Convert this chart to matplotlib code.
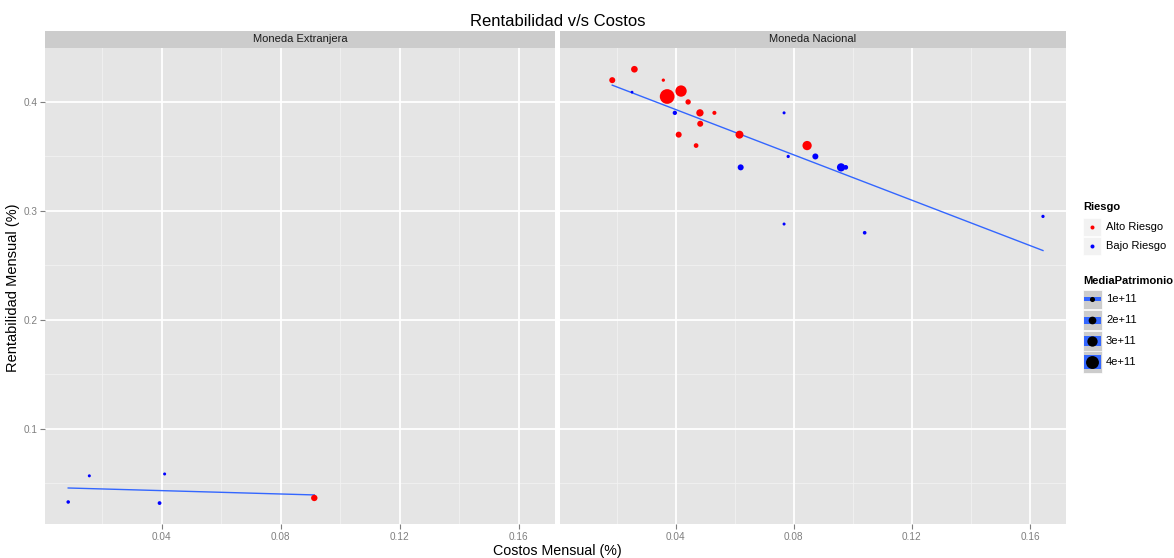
import numpy as np
from matplotlib import pyplot as plt
from matplotlib.patches import Rectangle

plt.rc('font', family='Liberation Sans')

# ---- datos ----
# Moneda Extranjera
ext_costo = [0.0086, 0.0157, 0.0393, 0.0410, 0.0913]
ext_rent = [0.033, 0.057, 0.032, 0.0587, 0.0367]
ext_riesgo = ['Bajo', 'Bajo', 'Bajo', 'Bajo', 'Alto']
ext_patrim = [0.4, 0.2, 0.5, 0.2, 1.5]  # x 1e11

# Moneda Nacional
nac_costo = [0.0185, 0.0260, 0.0358, 0.0371, 0.0418, 0.0442, 0.0482, 0.0531, 0.0483,
             0.0410, 0.0469, 0.0616, 0.0845,
             0.0252, 0.0397, 0.0767, 0.0781, 0.0873, 0.0620, 0.0960, 0.0976, 0.0767,
             0.1040, 0.1644]
nac_rent = [0.420, 0.430, 0.420, 0.405, 0.410, 0.400, 0.390, 0.390, 0.380,
            0.370, 0.360, 0.370, 0.360,
            0.409, 0.390, 0.390, 0.350, 0.350, 0.340, 0.340, 0.340, 0.288,
            0.280, 0.295]
nac_riesgo = ['Alto'] * 13 + ['Bajo'] * 11
nac_patrim = [1.35, 1.6, 0.3, 4.7, 3.4, 1.1, 1.85, 0.6, 1.35, 1.35, 0.85, 2.1, 2.6,
              0.1, 0.7, 0.2, 0.3, 1.35, 1.35, 2.2, 0.85, 0.2, 0.45, 0.3]

facetas = ['Moneda Extranjera', 'Moneda Nacional']
legend_riesgo = ['Alto Riesgo', 'Bajo Riesgo']
legend_patrim = [1, 2, 3, 4]  # x 1e11
legend_patrim_lbl = ['1e+11', '2e+11', '3e+11', '4e+11']

colores = {'Alto': '#FF0000', 'Bajo': '#0000FF'}
W, H = 1174, 558


def diam_px(v):
    return 2.5 + 2.6 * np.asarray(v)


def px_axes(x0, y0, x1, y1):
    # rectangulo en pixeles (origen arriba-izquierda)
    return fig.add_axes([x0 / W, (H - y1) / H, (x1 - x0) / W, (y1 - y0) / H])


fig = plt.figure(figsize=(W / 100, H / 100), dpi=100)

xlim = (0.0008, 0.1722)
ylim = (0.0128, 0.4495)
panels = [(45, 555), (560, 1066)]
datos = [(ext_costo, ext_rent, ext_riesgo, ext_patrim),
         (nac_costo, nac_rent, nac_riesgo, nac_patrim)]

for i, ((x0, x1), (cx, ry, rg, pt)) in enumerate(zip(panels, datos)):
    ax = px_axes(x0, 48, x1, 524)
    ax.set_facecolor('#E5E5E5')
    for s in ax.spines.values():
        s.set_visible(False)
    for v in [0.02, 0.06, 0.10, 0.14]:
        ax.axvline(v, color='#F2F2F2', lw=0.6, zorder=0)
    for v in [0.05, 0.15, 0.25, 0.35]:
        ax.axhline(v, color='#F2F2F2', lw=0.6, zorder=0)
    for v in [0.04, 0.08, 0.12, 0.16]:
        ax.axvline(v, color='white', lw=1.3, zorder=0)
    for v in [0.1, 0.2, 0.3, 0.4]:
        ax.axhline(v, color='white', lw=1.3, zorder=0)

    cx = np.array(cx)
    ry = np.array(ry)
    col = [colores[r] for r in rg]
    size = (diam_px(pt) * 0.72) ** 2
    ax.scatter(cx, ry, s=size, c=col, linewidths=0, zorder=3)

    # recta lm
    b, a = np.polyfit(cx, ry, 1)
    xx = np.array([cx.min(), cx.max()])
    ax.plot(xx, a + b * xx, color='#3366FF', lw=1.0, zorder=2)

    ax.set_xlim(xlim)
    ax.set_ylim(ylim)
    ax.set_xticks([0.04, 0.08, 0.12, 0.16])
    ax.set_xticklabels(['0.04', '0.08', '0.12', '0.16'])
    ax.set_yticks([0.1, 0.2, 0.3, 0.4])
    ax.set_yticklabels(['0.1', '0.2', '0.3', '0.4'])
    ax.tick_params(colors='#7F7F7F', labelcolor='#7F7F7F', labelsize=7.2, length=3.5, width=0.8, pad=2)
    if i == 1:
        ax.tick_params(axis='y', left=False, labelleft=False)

    # strip
    sx = px_axes(x0, 31, x1, 48)
    sx.set_facecolor('#CCCCCC')
    sx.set_xticks([])
    sx.set_yticks([])
    for s in sx.spines.values():
        s.set_visible(False)
    sx.text(0.5, 0.5, facetas[i], ha='center', va='center', fontsize=8, color='#1A1A1A',
            transform=sx.transAxes)

fig.text(558 / W, 1 - 21 / H, 'Rentabilidad v/s Costos', ha='center', va='center', fontsize=12)
fig.text(557 / W, 1 - 551 / H, 'Costos Mensual (%)', ha='center', va='center', fontsize=10.3)
fig.text(13 / W, 1 - 288 / H, 'Rentabilidad Mensual (%)', ha='center', va='center',
         fontsize=10.5, rotation=90)

# ---- leyenda ----
lg = px_axes(1075, 190, 1174, 380)
lg.set_xlim(1075, 1174)
lg.set_ylim(380, 190)
lg.axis('off')

lg.text(1083, 207, 'Riesgo', fontsize=8, fontweight='bold', va='center')
for k, (lbl, key) in enumerate(zip(legend_riesgo, ['Alto', 'Bajo'])):
    yc = 227 + 19 * k
    lg.add_patch(Rectangle((1083, yc - 9), 18, 18, facecolor='#F2F2F2', edgecolor='white', lw=0.5))
    lg.scatter([1092], [yc], s=(4 * 0.72) ** 2, c=colores[key], linewidths=0)
    lg.text(1106, yc, lbl, fontsize=8, va='center')

lg.text(1083, 281, 'MediaPatrimonio', fontsize=8, fontweight='bold', va='center')
box_h = [19, 20, 21, 22]
bar_h = [4, 7, 10, 14]
ycs = [299, 320, 341, 362]
for v, lbl, yc, bh, rh in zip(legend_patrim, legend_patrim_lbl, ycs, box_h, bar_h):
    lg.add_patch(Rectangle((1083, yc - bh / 2), 19, bh, facecolor='#CCCCCC', edgecolor='white', lw=0.5))
    lg.add_patch(Rectangle((1084, yc - rh / 2), 17, rh, facecolor='#3366FF', edgecolor='none'))
    lg.scatter([1092.5], [yc], s=(diam_px(v) * 0.72) ** 2, c='black', linewidths=0, zorder=3)
    lg.text(1106, yc, lbl, fontsize=8, va='center')

plt.savefig('out.png', dpi=100)
